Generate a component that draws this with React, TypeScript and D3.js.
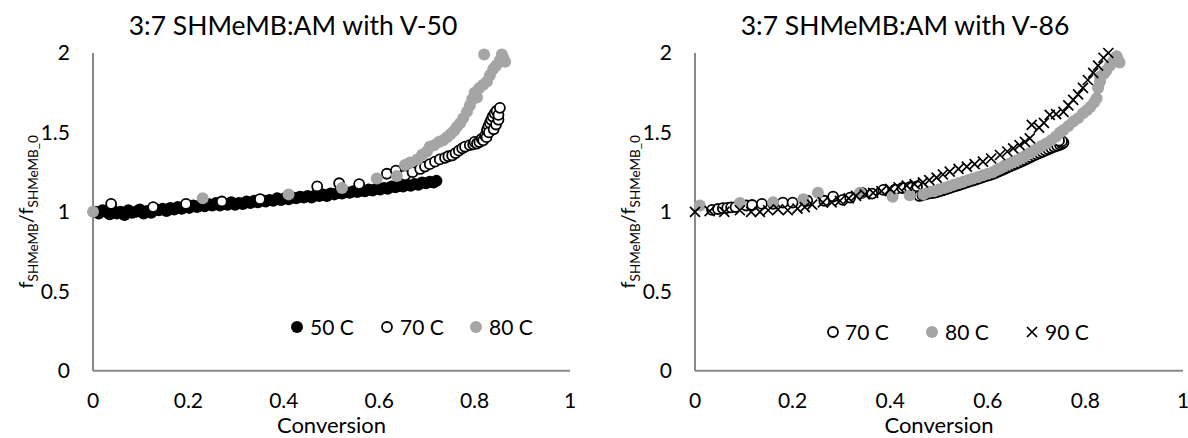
import React from 'react';
import * as d3 from 'd3';

const xTicks = [0, 0.2, 0.4, 0.6, 0.8, 1];
const yTicks = [0, 0.5, 1, 1.5, 2];
const xTickLabels = ['0', '0.2', '0.4', '0.6', '0.8', '1'];
const yTickLabels = ['0', '0.5', '1', '1.5', '2'];

const titles = ['3:7 SHMeMB:AM with V-50', '3:7 SHMeMB:AM with V-86'];
const xAxisTitle = 'Conversion';

// Left panel (V-50)
const v50_50C: [number, number][] = [
  [0.005, 1.0], [0.012, 0.99], [0.02, 1.01], [0.028, 1.0], [0.035, 0.985], [0.043, 1.005], [0.05, 0.99], [0.058, 1.0],
  [0.066, 0.98], [0.074, 1.01], [0.082, 0.995], [0.09, 1.0], [0.098, 1.015], [0.106, 0.99], [0.114, 1.005], [0.122, 0.995],
  [0.13, 1.02], [0.138, 1.01], [0.146, 1.02], [0.154, 1.005], [0.162, 1.025], [0.17, 1.015], [0.178, 1.03], [0.186, 1.02],
  [0.194, 1.035], [0.202, 1.025], [0.21, 1.04], [0.218, 1.03], [0.226, 1.045], [0.234, 1.035], [0.242, 1.05], [0.25, 1.04],
  [0.258, 1.055], [0.266, 1.04], [0.274, 1.05], [0.282, 1.045], [0.29, 1.06], [0.298, 1.045], [0.306, 1.055], [0.314, 1.05],
  [0.322, 1.065], [0.33, 1.055], [0.338, 1.07], [0.346, 1.06], [0.354, 1.075], [0.362, 1.065], [0.37, 1.075], [0.378, 1.07],
  [0.386, 1.085], [0.394, 1.075], [0.402, 1.085], [0.41, 1.08], [0.418, 1.09], [0.426, 1.085], [0.434, 1.095], [0.442, 1.09],
  [0.45, 1.1], [0.458, 1.09], [0.466, 1.105], [0.474, 1.1], [0.482, 1.11], [0.49, 1.1], [0.498, 1.115], [0.506, 1.11],
  [0.514, 1.12], [0.522, 1.115], [0.53, 1.125], [0.538, 1.12], [0.546, 1.13], [0.554, 1.125], [0.562, 1.135], [0.57, 1.13],
  [0.578, 1.14], [0.586, 1.135], [0.594, 1.145], [0.602, 1.14], [0.61, 1.15], [0.618, 1.145], [0.626, 1.16], [0.634, 1.155],
  [0.642, 1.165], [0.65, 1.16], [0.658, 1.17], [0.666, 1.165], [0.674, 1.175], [0.682, 1.17], [0.69, 1.185], [0.698, 1.18],
  [0.706, 1.19], [0.714, 1.185], [0.72, 1.195],
];

const v50_70C: [number, number][] = [
  [0.038, 1.05], [0.126, 1.03], [0.195, 1.05], [0.27, 1.065], [0.35, 1.08], [0.47, 1.16], [0.516, 1.18], [0.558, 1.175],
  [0.616, 1.24], [0.635, 1.26], [0.654, 1.23], [0.67, 1.25], [0.686, 1.27], [0.696, 1.285], [0.706, 1.3], [0.717, 1.316],
  [0.727, 1.33], [0.738, 1.34], [0.745, 1.35], [0.753, 1.355], [0.76, 1.37], [0.767, 1.385], [0.774, 1.4], [0.78, 1.41],
  [0.79, 1.42], [0.797, 1.425], [0.8, 1.44], [0.805, 1.43], [0.81, 1.44], [0.815, 1.46], [0.818, 1.45], [0.822, 1.48],
  [0.825, 1.47], [0.826, 1.515], [0.829, 1.54], [0.83, 1.5], [0.832, 1.56], [0.835, 1.58], [0.838, 1.6], [0.84, 1.52],
  [0.842, 1.62], [0.845, 1.55], [0.846, 1.635], [0.85, 1.58], [0.85, 1.61], [0.853, 1.655],
];

const v50_80C: [number, number][] = [
  [0.0, 1.0], [0.23, 1.085], [0.41, 1.11], [0.522, 1.15], [0.595, 1.21], [0.637, 1.225], [0.654, 1.295], [0.665, 1.31],
  [0.68, 1.33], [0.69, 1.36], [0.7, 1.38], [0.706, 1.41], [0.715, 1.42], [0.725, 1.44], [0.734, 1.45], [0.742, 1.47],
  [0.75, 1.49], [0.757, 1.51], [0.763, 1.535], [0.77, 1.56], [0.776, 1.59], [0.784, 1.63], [0.79, 1.67], [0.795, 1.71],
  [0.8, 1.75], [0.805, 1.72], [0.81, 1.78], [0.818, 1.8], [0.826, 1.82], [0.832, 1.86], [0.839, 1.9], [0.845, 1.92],
  [0.853, 1.955], [0.857, 1.99], [0.864, 1.945], [0.82, 1.99], [0.86, 1.97],
];

// Right panel (V-86)
const v86_70C: [number, number][] = [
  [0.035, 1.012], [0.047, 1.018], [0.057, 1.023], [0.066, 1.025], [0.074, 1.028], [0.083, 1.03], [0.105, 1.04], [0.117, 1.043],
  [0.137, 1.05], [0.16, 1.05], [0.18, 1.058], [0.2, 1.058], [0.23, 1.07], [0.265, 1.07], [0.283, 1.096], [0.303, 1.075],
  [0.318, 1.09], [0.342, 1.12], [0.363, 1.115], [0.386, 1.138], [0.41, 1.14], [0.425, 1.15], [0.44, 1.155], [0.455, 1.16],
  [0.46, 1.1], [0.466, 1.105], [0.472, 1.11], [0.478, 1.115], [0.484, 1.118], [0.49, 1.12], [0.496, 1.125], [0.502, 1.13],
  [0.508, 1.136], [0.514, 1.142], [0.52, 1.148], [0.526, 1.154], [0.532, 1.16], [0.538, 1.166], [0.544, 1.172], [0.55, 1.178],
  [0.556, 1.184], [0.562, 1.19], [0.568, 1.196], [0.574, 1.202], [0.58, 1.208], [0.586, 1.214], [0.592, 1.22], [0.598, 1.226],
  [0.604, 1.232], [0.61, 1.238], [0.616, 1.246], [0.622, 1.254], [0.628, 1.262], [0.634, 1.27], [0.64, 1.278], [0.646, 1.286],
  [0.652, 1.294], [0.658, 1.302], [0.664, 1.31], [0.67, 1.318], [0.676, 1.327], [0.682, 1.336], [0.688, 1.345], [0.694, 1.354],
  [0.7, 1.362], [0.706, 1.37], [0.712, 1.378], [0.718, 1.386], [0.724, 1.394], [0.73, 1.402], [0.736, 1.41], [0.742, 1.416],
  [0.748, 1.422], [0.752, 1.428], [0.755, 1.436], [0.752, 1.445], [0.746, 1.448],
];

const v86_80C: [number, number][] = [
  [0.01, 1.04], [0.092, 1.055], [0.16, 1.06], [0.222, 1.08], [0.252, 1.12], [0.338, 1.12], [0.405, 1.095], [0.44, 1.105],
  [0.468, 1.11], [0.48, 1.127], [0.49, 1.13], [0.5, 1.14], [0.51, 1.15], [0.52, 1.16], [0.53, 1.17], [0.54, 1.18],
  [0.55, 1.19], [0.56, 1.2], [0.57, 1.21], [0.58, 1.22], [0.59, 1.23], [0.6, 1.24], [0.61, 1.25], [0.618, 1.264],
  [0.626, 1.275], [0.634, 1.29], [0.642, 1.3], [0.65, 1.31], [0.66, 1.325], [0.67, 1.34], [0.678, 1.355], [0.686, 1.37],
  [0.694, 1.385], [0.702, 1.4], [0.71, 1.415], [0.72, 1.43], [0.73, 1.45], [0.74, 1.475], [0.748, 1.5], [0.755, 1.515],
  [0.765, 1.54], [0.775, 1.568], [0.785, 1.59], [0.795, 1.62], [0.803, 1.64], [0.81, 1.66], [0.818, 1.69], [0.823, 1.715],
  [0.826, 1.78], [0.83, 1.82], [0.83, 1.85], [0.838, 1.87], [0.843, 1.89], [0.85, 1.92], [0.857, 1.95], [0.864, 1.98],
  [0.87, 1.94], [0.866, 1.96],
];

const v86_90C: [number, number][] = [
  [0.0, 1.0], [0.03, 1.005], [0.06, 1.0], [0.092, 1.01], [0.115, 1.0], [0.133, 1.0], [0.15, 1.01], [0.17, 1.015],
  [0.19, 1.01], [0.21, 1.02], [0.225, 1.03], [0.24, 1.045], [0.262, 1.06], [0.28, 1.06], [0.297, 1.07], [0.315, 1.085],
  [0.33, 1.1], [0.348, 1.11], [0.365, 1.12], [0.382, 1.13], [0.4, 1.145], [0.417, 1.155], [0.434, 1.165], [0.45, 1.175],
  [0.467, 1.185], [0.48, 1.2], [0.495, 1.215], [0.508, 1.235], [0.522, 1.253], [0.54, 1.27], [0.557, 1.285], [0.573, 1.3],
  [0.59, 1.316], [0.607, 1.336], [0.625, 1.358], [0.64, 1.38], [0.652, 1.4], [0.665, 1.42], [0.676, 1.44], [0.686, 1.463],
  [0.69, 1.547], [0.705, 1.53], [0.715, 1.56], [0.727, 1.61], [0.74, 1.615], [0.755, 1.63], [0.765, 1.67], [0.775, 1.705],
  [0.785, 1.74], [0.795, 1.78], [0.805, 1.83], [0.816, 1.875], [0.826, 1.92], [0.837, 1.97], [0.847, 2.0],
];

const leftLegend = ['50 C', '70 C', '80 C'];
const rightLegend = ['70 C', '80 C', '90 C'];

type Kind = 'black' | 'open' | 'gray' | 'x';
const GRAY = '#A5A5A5';
const AXIS = '#898989';
const FONT = 'Lato, Carlito, Calibri, "Open Sans", sans-serif';

function Marker({ kind, cx, cy }: { kind: Kind; cx: number; cy: number }) {
  if (kind === 'black') return <circle cx={cx} cy={cy} r={6} fill="#000" />;
  if (kind === 'gray') return <circle cx={cx} cy={cy} r={6} fill={GRAY} />;
  if (kind === 'open') return <circle cx={cx} cy={cy} r={5} fill="#fff" stroke="#000" strokeWidth={1.8} />;
  const s = 5;
  return (
    <path d={`M${cx - s},${cy - s}L${cx + s},${cy + s}M${cx - s},${cy + s}L${cx + s},${cy - s}`} stroke="#000" strokeWidth={1.7} fill="none" />
  );
}

interface PanelProps {
  x0: number; x1: number; y0: number; y1: number;
  title: string; titleX: number;
  yLabelX: number;
  series: { data: [number, number][]; kind: Kind }[];
  legend: { label: string; kind: Kind; mx: number; tx: number }[];
  legendY: number;
}

function Panel(p: PanelProps) {
  const xs = d3.scaleLinear().domain([0, 1]).range([p.x0, p.x1]);
  const ys = d3.scaleLinear().domain([0, 2]).range([p.y0, p.y1]);
  const midY = (p.y0 + p.y1) / 2;
  return (
    <g fontFamily={FONT} fill="#000">
      <text x={p.titleX} y={35} textAnchor="middle" fontSize={26.5}>{p.title}</text>
      {yTicks.map((t, i) => (
        <text key={'y' + i} x={p.x0 - 23} y={ys(t)} dy="0.35em" textAnchor="end" fontSize={21}>{yTickLabels[i]}</text>
      ))}
      {xTicks.map((t, i) => (
        <text key={'x' + i} x={xs(t)} y={p.y0 + 37.5} textAnchor="middle" fontSize={21}>{xTickLabels[i]}</text>
      ))}
      <text x={(p.x0 + p.x1) / 2} y={433} textAnchor="middle" fontSize={22}>{xAxisTitle}</text>
      <text transform={`translate(${p.yLabelX},${midY}) rotate(-90)`} textAnchor="middle" fontSize={20}>
        <tspan>f</tspan>
        <tspan fontSize={13.5} dy={5}>SHMeMB</tspan>
        <tspan dy={-5}>/f</tspan>
        <tspan fontSize={13.5} dy={5}>SHMeMB_0</tspan>
      </text>
      <line x1={p.x0} x2={p.x0} y1={ys(0)} y2={ys(2)} stroke={AXIS} strokeWidth={2} />
      <line x1={p.x0} x2={xs(1)} y1={ys(0)} y2={ys(0)} stroke={AXIS} strokeWidth={2} />
      {p.series.map((s, si) => (
        <g key={'s' + si}>
          {s.data.map((d, i) => (
            <Marker key={i} kind={s.kind} cx={xs(d[0])} cy={ys(d[1])} />
          ))}
        </g>
      ))}
      {p.legend.map((l, i) => (
        <g key={'l' + i}>
          <Marker kind={l.kind} cx={l.mx} cy={p.legendY} />
          <text x={l.tx} y={p.legendY + 8} fontSize={21}>{l.label}</text>
        </g>
      ))}
    </g>
  );
}

export default function App() {
  return (
    <svg width={1188} height={438} style={{ position: 'absolute', left: 0, top: 0, background: '#fff' }}>
      <rect width={1188} height={438} fill="#fff" />
      <Panel
        x0={93} x1={570} y0={370.7} y1={53}
        title={titles[0]} titleX={293} yLabelX={33}
        series={[
          { data: v50_50C, kind: 'black' },
          { data: v50_70C, kind: 'open' },
          { data: v50_80C, kind: 'gray' },
        ]}
        legend={[
          { label: leftLegend[0], kind: 'black', mx: 297, tx: 310 },
          { label: leftLegend[1], kind: 'open', mx: 387, tx: 400 },
          { label: leftLegend[2], kind: 'gray', mx: 476, tx: 489 },
        ]}
        legendY={327}
      />
      <Panel
        x0={695} x1={1183} y0={370.7} y1={53}
        title={titles[1]} titleX={905} yLabelX={635}
        series={[
          { data: v86_70C, kind: 'open' },
          { data: v86_80C, kind: 'gray' },
          { data: v86_90C, kind: 'x' },
        ]}
        legend={[
          { label: rightLegend[0], kind: 'open', mx: 833, tx: 845 },
          { label: rightLegend[1], kind: 'gray', mx: 932, tx: 945 },
          { label: rightLegend[2], kind: 'x', mx: 1032, tx: 1045 },
        ]}
        legendY={332}
      />
    </svg>
  );
}
